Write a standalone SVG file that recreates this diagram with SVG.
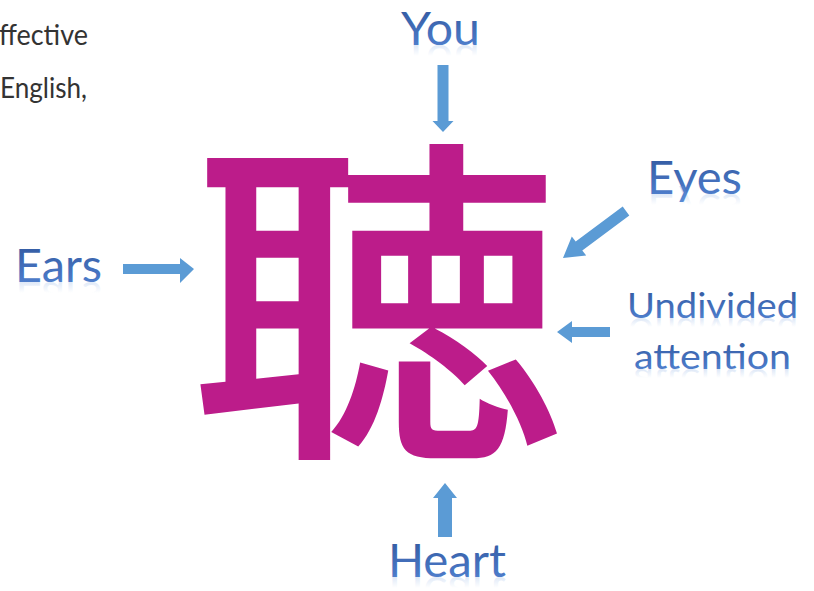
<svg xmlns="http://www.w3.org/2000/svg" width="814" height="591" viewBox="0 0 814 591">
  <defs>
    <linearGradient id="lblFill" x1="0" y1="0" x2="0" y2="1">
      <stop offset="0" stop-color="#2E5499"/>
      <stop offset="0.75" stop-color="#4A78C6"/>
      <stop offset="1" stop-color="#5B8ED6"/>
    </linearGradient>
    <linearGradient id="reflFill" x1="0" y1="0" x2="0" y2="1">
      <stop offset="0" stop-color="#6A97DA" stop-opacity="0"/>
      <stop offset="0.62" stop-color="#6A97DA" stop-opacity="0"/>
      <stop offset="0.85" stop-color="#6A97DA" stop-opacity="0.25"/>
      <stop offset="1" stop-color="#6A97DA" stop-opacity="0.35"/>
    </linearGradient>
    <style>
      .body { font-family: Lato, "Liberation Sans", sans-serif; font-weight: 400; font-size: 28px; fill: #333333; }
      .lbl { font-family: Lato, "Open Sans", "Liberation Sans", sans-serif; font-size: 46px; fill: url(#lblFill); }
      .lbl2 { font-family: Lato, "Open Sans", "Liberation Sans", sans-serif; font-size: 35px; fill: url(#lblFill); }
      .refl { fill: url(#reflFill); }
      .arrow { fill: #5B9BD5; stroke: none; }
      .kanji { font-family: "Noto Sans CJK JP", "Noto Sans CJK SC", sans-serif; font-weight: 500; font-size: 375px; fill: #BC1C8A; }
    </style>
  </defs>

  <g id="body-text">
    <text class="body" x="-1" y="45" textLength="89" lengthAdjust="spacingAndGlyphs">ffective</text>
    <text class="body" x="0" y="98" textLength="87" lengthAdjust="spacingAndGlyphs">English,</text>
  </g>

  <g id="kanji">
    <text class="kanji" transform="translate(377,431) scale(1,0.918)" x="0" y="0" text-anchor="middle">聴</text>
  </g>

  <g id="connectors">
    <polygon class="arrow" points="437.5,65 448.5,65 448.5,121 453.5,121 443,132 432.5,121 437.5,121"/>
    <polygon class="arrow" points="123,264 180,264 180,258 194,269 180,283 180,274 123,274"/>
    <polygon class="arrow" points="622.7,206.6 629.3,215.4 582.3,250.4 586.2,255.6 563,258 571.8,236.4 575.7,241.6"/>
    <polygon class="arrow" points="610,327 572,327 572,321 557,332 572,343 572,337 610,337"/>
    <polygon class="arrow" points="438,537 452,537 452,498 457,498 445,483 433,498 438,498"/>
  </g>

  <g id="you">
    <text class="lbl" x="401" y="45" textLength="79" lengthAdjust="spacingAndGlyphs">You</text>
    <text class="lbl refl" x="401" y="-45" transform="scale(1,-1)" textLength="79" lengthAdjust="spacingAndGlyphs">You</text>
  </g>
  <g id="ears">
    <text class="lbl" x="15" y="282" textLength="87" lengthAdjust="spacingAndGlyphs">Ears</text>
    <text class="lbl refl" x="15" y="-282" transform="scale(1,-1)" textLength="87" lengthAdjust="spacingAndGlyphs">Ears</text>
  </g>
  <g id="eyes">
    <text class="lbl" x="647" y="194" textLength="95" lengthAdjust="spacingAndGlyphs">Eyes</text>
    <text class="lbl refl" x="647" y="-194" transform="scale(1,-1)" textLength="95" lengthAdjust="spacingAndGlyphs">Eyes</text>
  </g>
  <g id="undivided">
    <text class="lbl2" x="627" y="318" textLength="171" lengthAdjust="spacingAndGlyphs">Undivided</text>
    <text class="lbl2 refl" x="627" y="-318" transform="scale(1,-1)" textLength="171" lengthAdjust="spacingAndGlyphs">Undivided</text>
    <text class="lbl2" x="634" y="369" textLength="157" lengthAdjust="spacingAndGlyphs">attention</text>
    <text class="lbl2 refl" x="634" y="-369" transform="scale(1,-1)" textLength="157" lengthAdjust="spacingAndGlyphs">attention</text>
  </g>
  <g id="heart">
    <text class="lbl" x="388" y="577" textLength="118" lengthAdjust="spacingAndGlyphs">Heart</text>
    <text class="lbl refl" x="388" y="-577" transform="scale(1,-1)" textLength="118" lengthAdjust="spacingAndGlyphs">Heart</text>
  </g>
</svg>
